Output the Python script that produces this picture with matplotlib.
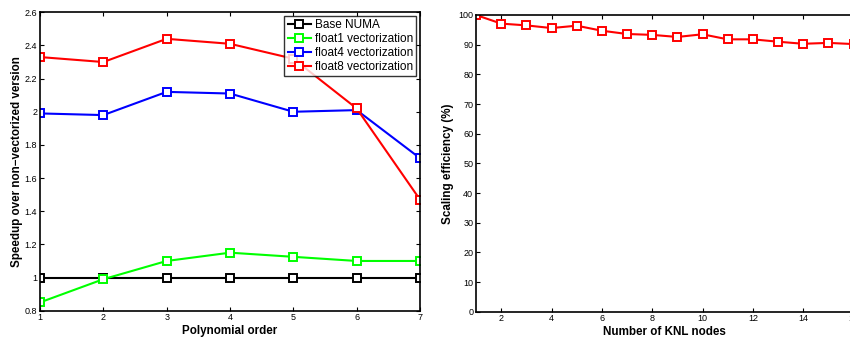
import numpy as np
import matplotlib.pyplot as plt

plt.rcParams['font.family'] = ['Liberation Sans', 'DejaVu Sans']

# left panel: speedup vs polynomial order
poly_order = [1, 2, 3, 4, 5, 6, 7]
base_numa = [1, 1, 1, 1, 1, 1, 1]
float1 = [0.85, 0.99, 1.10, 1.15, 1.125, 1.10, 1.10]
float4 = [1.99, 1.98, 2.12, 2.11, 2.00, 2.01, 1.72]
float8 = [2.33, 2.30, 2.44, 2.41, 2.32, 2.02, 1.47]

# right panel: scaling efficiency vs number of nodes
knl_nodes = list(range(1, 17))
efficiency = [100, 97.1, 96.5, 95.6, 96.4, 94.7, 93.6, 93.3, 92.6, 93.5,
              91.8, 91.8, 91.0, 90.3, 90.6, 90.2]

fig = plt.figure(figsize=(8.5, 3.39), dpi=100)

ax1 = fig.add_axes([40/850, 1-310.7/339, 380/850, (310.7-12.3)/339])
ax2 = fig.add_axes([476/850, 1-311.7/339, 377.5/850, (311.7-15)/339])

mk = dict(marker='s', markersize=6, markerfacecolor='white', markeredgewidth=1.4, linewidth=1.5)
ax1.plot(poly_order, base_numa, color='black', label='Base NUMA', **mk)
ax1.plot(poly_order, float1, color='#00ff00', label='float1 vectorization', **mk)
ax1.plot(poly_order, float4, color='blue', label='float4 vectorization', **mk)
ax1.plot(poly_order, float8, color='red', label='float8 vectorization', **mk)
ax1.set_xlim(1, 7)
ax1.set_ylim(0.8, 2.6)
ax1.set_xticks(poly_order)
ax1.set_yticks([0.8, 1, 1.2, 1.4, 1.6, 1.8, 2, 2.2, 2.4, 2.6])
ax1.set_yticklabels(['0.8', '1', '1.2', '1.4', '1.6', '1.8', '2', '2.2', '2.4', '2.6'])
ax1.set_xlabel('Polynomial order', fontsize=8.4, fontweight='bold', labelpad=2)
ax1.set_ylabel('Speedup over non\u2212vectorized version', fontsize=8.4, fontweight='bold', labelpad=1)
leg = ax1.legend(loc='upper right', fontsize=8.5, fancybox=False, edgecolor='black',
                 borderaxespad=0.3, handlelength=2.0, borderpad=0.3, labelspacing=0.15,
                 handletextpad=0.3)
leg.get_frame().set_linewidth(1.0)

ax2.plot(knl_nodes, efficiency, color='red', **mk)
ax2.set_xlim(1, 16)
ax2.set_ylim(0, 100)
ax2.set_xticks(range(2, 17, 2))
ax2.set_yticks(range(0, 101, 10))
ax2.set_xlabel('Number of KNL nodes', fontsize=8.4, fontweight='bold', labelpad=2)
ax2.set_ylabel('Scaling efficiency (%)', fontsize=8.4, fontweight='bold', labelpad=3)

for ax in (ax1, ax2):
    ax.tick_params(direction='in', top=True, right=True, labelsize=6.5, length=3, pad=2)
    for sp in ax.spines.values():
        sp.set_linewidth(1.2)

fig.savefig('out.png', dpi=100)
